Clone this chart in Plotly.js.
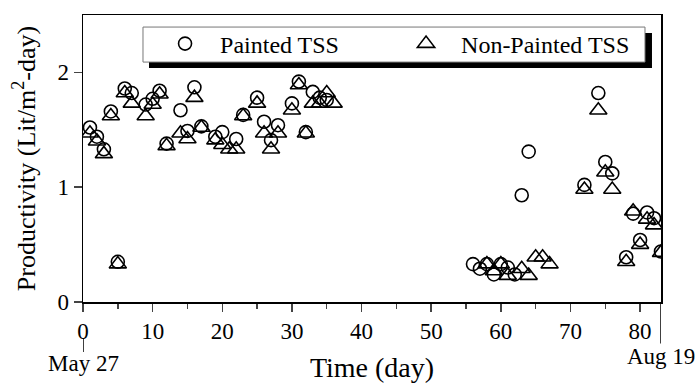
<!DOCTYPE html>
<html>
<head>
<meta charset="utf-8">
<script src="https://cdn.plot.ly/plotly-3.0.1.min.js"></script>
<style>html,body{margin:0;padding:0;background:#fff;}#chart{width:697px;height:383px;}</style>
</head>
<body>
<div id="chart"></div>
<script>
// Painted TSS (circles)
const paintedDays = [1,2,3,4,5,6,7,9,10,11,12,14,15,16,17,19,20,22,23,25,26,27,28,30,31,32,33,34,35,
  56,57,58,59,60,61,62,63,64,
  72,74,75,76,78,79,80,81,82,83];
const paintedVals = [1.52,1.44,1.33,1.66,0.35,1.86,1.82,1.72,1.77,1.84,1.38,1.67,1.49,1.87,1.53,1.44,1.48,1.42,1.63,1.78,1.57,1.41,1.54,1.73,1.92,1.48,1.83,1.78,1.76,
  0.33,0.29,0.33,0.24,0.33,0.30,0.24,0.93,1.31,
  1.02,1.82,1.22,1.12,0.39,0.77,0.54,0.78,0.73,0.44];
// Non-Painted TSS (triangles)
const nonPaintedDays = [1,2,3,4,5,6,7,9,10,11,12,14,15,16,17,19,20,21,22,23,25,26,27,28,30,31,32,33,34,35,36,
  58,59,60,61,63,64,65,66,67,
  72,74,75,76,78,79,80,81,82,83];
const nonPaintedVals = [1.47,1.40,1.29,1.62,0.33,1.82,1.73,1.62,1.72,1.81,1.36,1.47,1.42,1.78,1.52,1.41,1.37,1.33,1.33,1.62,1.73,1.47,1.33,1.47,1.67,1.89,1.47,1.73,1.73,1.82,1.73,
  0.33,0.27,0.33,0.23,0.29,0.23,0.39,0.39,0.33,
  0.98,1.67,1.13,0.98,0.35,0.79,0.50,0.72,0.67,0.43];
const xTicks = [0,10,20,30,40,50,60,70,80];
const yTicks = [0,1,2];
const startLabel = 'May 27';
const endLabel = 'Aug 19';

const FONT = 'Liberation Serif, Times New Roman, serif';
const traces = [
  {x: paintedDays, y: paintedVals, type: 'scatter', mode: 'markers', name: 'Painted TSS',
   marker: {symbol: 'circle-open', size: 13, color: '#000', line: {width: 1.6, color: '#000'}}},
  {x: nonPaintedDays, y: nonPaintedVals, type: 'scatter', mode: 'markers', name: 'Non-Painted TSS',
   marker: {symbol: 'triangle-up-open', size: 15, color: '#000', line: {width: 1.6, color: '#000'}}}
];
const layout = {
  width: 697, height: 383,
  margin: {l: 83, r: 36, t: 15, b: 81, autoexpand: false},
  paper_bgcolor: '#fff', plot_bgcolor: '#fff',
  font: {family: FONT, color: '#000', size: 23},
  showlegend: true,
  legend: {orientation: 'h', x: 0.116, y: 0.899, xanchor: 'left', yanchor: 'middle',
    bgcolor: 'rgba(0,0,0,0)', borderwidth: 0, font: {family: FONT, size: 24, color: '#000'},
    entrywidth: 166, entrywidthmode: 'pixels', itemwidth: 60},
  xaxis: {range: [0, 83], tickvals: xTicks, ticks: 'outside', ticklen: 8, tickwidth: 1.5,
    showline: true, linewidth: 1.5, linecolor: '#000', mirror: true, showgrid: false, zeroline: false,
    minor: {dtick: 5, tick0: 0, ticks: 'outside', ticklen: 5, tickwidth: 1.5, showgrid: false},
    tickfont: {family: FONT, size: 23, color: '#000'},
    title: {text: 'Time (day)', font: {family: FONT, size: 28, color: '#000'}, standoff: 20}},
  yaxis: {range: [0, 2.5], tickvals: yTicks, ticks: 'outside', ticklen: 8, tickwidth: 1.5,
    showline: true, linewidth: 1.5, linecolor: '#000', mirror: true, showgrid: false, zeroline: false,
    tickfont: {family: FONT, size: 23, color: '#000'},
    title: {text: 'Productivity (Lit/m<sup>2</sup>-day)', font: {family: FONT, size: 26, color: '#000'}, standoff: 14}},
  shapes: [
    {type: 'rect', xref: 'paper', yref: 'paper', x0: 0.1142, x1: 0.9844, y0: 0.815, y1: 0.937,
     fillcolor: '#000', line: {width: 0}, layer: 'above'},
    {type: 'rect', xref: 'paper', yref: 'paper', x0: 0.1038, x1: 0.9723, y0: 0.836, y1: 0.958,
     fillcolor: '#fff', line: {width: 1, color: '#777'}, layer: 'above'},
    {type: 'line', xref: 'x', yref: 'paper', x0: 0, x1: 0, y0: -0.125, y1: -0.174,
     line: {width: 1.5, color: '#000'}},
    {type: 'line', xref: 'x', yref: 'paper', x0: 83, x1: 83, y0: 0, y1: -0.145,
     line: {width: 1.5, color: '#000'}}
  ],
  annotations: [
    {text: startLabel, xref: 'x', yref: 'paper', x: 0, y: -0.213, xanchor: 'center', yanchor: 'middle',
     showarrow: false, font: {family: FONT, size: 23, color: '#000'}},
    {text: endLabel, xref: 'x', yref: 'paper', x: 83, y: -0.19, xanchor: 'center', yanchor: 'middle',
     showarrow: false, font: {family: FONT, size: 23, color: '#000'}}
  ]
};
Plotly.newPlot('chart', traces, layout, {displayModeBar: false, staticPlot: true});
</script>
</body>
</html>
